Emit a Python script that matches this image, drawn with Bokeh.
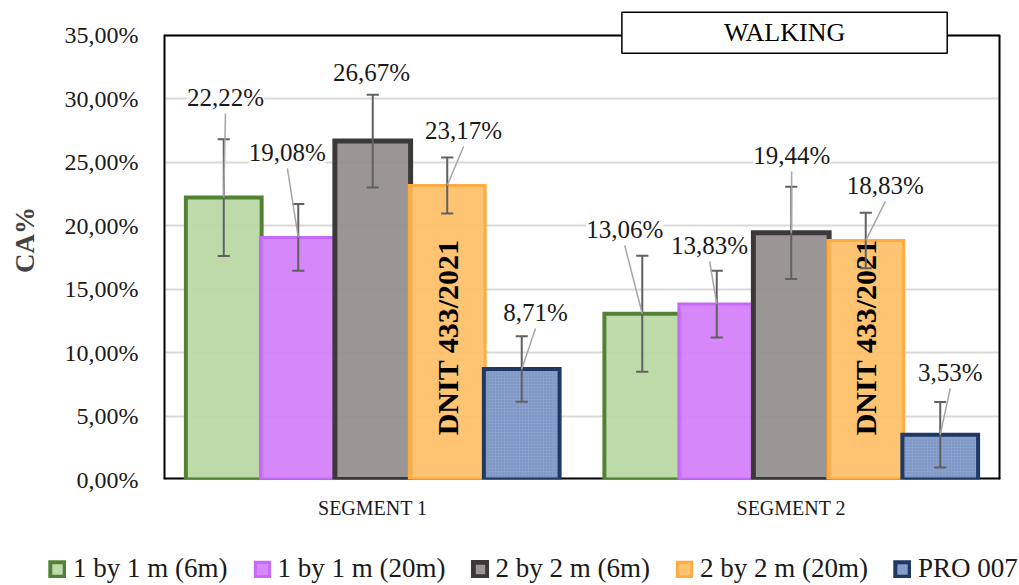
import math
from bokeh.plotting import figure
from bokeh.layouts import column
from bokeh.models import (FactorRange, ColumnDataSource, LabelSet, Label, Legend, LegendItem,
                          CustomJSTickFormatter, FixedTicker)
from bokeh.embed import file_html
from bokeh.resources import INLINE

# ---------------- data ----------------
segments = ["SEGMENT 1", "SEGMENT 2"]
series = ["1 by 1 m (6m)", "1 by 1 m (20m)", "2 by 2 m (6m)", "2 by 2 m (20m)", "PRO 007"]
values_seg1 = [22.22, 19.08, 26.67, 23.17, 8.71]
values_seg2 = [13.06, 13.83, 19.44, 18.83, 3.53]
err_seg1 = [4.60, 2.63, 3.65, 2.20, 2.58]
err_seg2 = [4.57, 2.63, 3.64, 2.19, 2.58]
y_ticks = [0, 5, 10, 15, 20, 25, 30, 35]
bar_note = "DNIT 433/2021"
title_text = "WALKING"

# ---------------- style ----------------
fills = ["#b7d8a2", "#d27dfa", "#918d8d", "#ffbf66", "#8099c9"]
borders = ["#548235", "#c46af6", "#3b3838", "#ffab40", "#1f3864"]
border_w = [4, 3, 5, 3, 4]
FONT = "Liberation Serif"
STEP = 0.178
WIDTH = 0.181
Y_MAX = 35
Y_TOP = 37.75   # extra room above the plot box for the title box
# label offsets (layout): x shift in category units, y shift in value units
label_dx = [[0.004, -0.026, -0.003, 0.039, 0.033], [-0.042, -0.017, 0.001, 0.047, 0.024]]
label_dy = [[7.88, 6.69, 5.40, 4.33, 4.45], [6.64, 4.61, 6.09, 4.34, 4.90]]
show_leader = [[True, True, False, True, True], [True, True, True, True, True]]

p = figure(x_range=FactorRange(factors=segments, range_padding=0), y_range=(0, Y_TOP),
           width=1019, height=540, output_backend="svg", toolbar_location=None,
           min_border_left=163, min_border_right=19, min_border_top=0, min_border_bottom=61)
p.title = None
p.frame_align = False

p.outline_line_color = None
p.background_fill_color = "white"
p.border_fill_color = "white"

p.xgrid.visible = False
p.ygrid.grid_line_color = "#d9d9d9"
p.ygrid.grid_line_width = 2
p.yaxis.ticker = FixedTicker(ticks=y_ticks)
p.yaxis.formatter = CustomJSTickFormatter(code="return tick.toFixed(2).replace('.', ',') + '%';")
p.yaxis.axis_line_color = None
p.yaxis.major_tick_line_color = None
p.yaxis.minor_tick_line_color = None
p.yaxis.major_label_standoff = 19
p.yaxis.major_label_text_font = FONT
p.yaxis.major_label_text_font_size = "24px"
p.yaxis.major_label_text_color = "#1a1a1a"
p.yaxis.axis_label = "CA%"
p.yaxis.axis_label_text_font = FONT
p.yaxis.axis_label_text_font_style = "bold"
p.yaxis.axis_label_text_font_size = "27px"
p.yaxis.axis_label_standoff = 22

p.xaxis.axis_line_color = None
p.xaxis.major_tick_line_color = None
p.xaxis.minor_tick_line_color = None
p.xaxis.major_label_standoff = 11
p.xaxis.major_label_text_font = FONT
p.xaxis.major_label_text_font_size = "20px"
p.xaxis.major_label_text_color = "#1a1a1a"

# plot box (frame) drawn as lines from 0..Y_MAX
n = len(segments)
p.segment(x0=[0, 0, n], y0=[0, 0, 0], x1=[n, 0, n], y1=[0, Y_MAX, Y_MAX], line_color="black", line_width=4)
p.segment(x0=[0], y0=[Y_MAX], x1=[n], y1=[Y_MAX], line_color="black", line_width=2)

values = [values_seg1, values_seg2]
errs = [err_seg1, err_seg2]

def bar_style(i):
    kw = dict(fill_color=fills[i], fill_alpha=0.92, line_color=borders[i], line_width=border_w[i],
              line_join="miter")
    if i == 4:
        kw.update(hatch_pattern=".", hatch_color="#5c76aa", hatch_scale=3, hatch_weight=0.4, hatch_alpha=0.6)
    return kw

for i, name in enumerate(series):
    xs = [g + 0.5 + (i - 2) * STEP for g in range(n)]
    tops = [values[g][i] for g in range(n)]
    p.vbar(x=xs, top=tops, bottom=0, width=WIDTH, **bar_style(i))

# DNIT notes on orange bars
for g in range(n):
    x = g + 0.5 + (3 - 2) * STEP
    p.text(x=[x], y=[11.2], text=[bar_note], angle=math.pi / 2, text_align="center",
           text_baseline="middle", text_font_size="30px", text_font_style="bold",
           text_color="black", text_font={"value": FONT})

# error bars
ex, elo, ehi = [], [], []
for g in range(n):
    for i in range(len(series)):
        ex.append(g + 0.5 + (i - 2) * STEP)
        elo.append(values[g][i] - errs[g][i])
        ehi.append(values[g][i] + errs[g][i])
cap = 0.0145
p.segment(x0=ex, y0=elo, x1=ex, y1=ehi, line_color="#606060", line_width=2)
p.segment(x0=[x - cap for x in ex], y0=elo, x1=[x + cap for x in ex], y1=elo, line_color="#606060", line_width=2)
p.segment(x0=[x - cap for x in ex], y0=ehi, x1=[x + cap for x in ex], y1=ehi, line_color="#606060", line_width=2)

# leader lines + labels
lx, ly, lt = [], [], []
l0x, l0y, l1x, l1y = [], [], [], []
for g in range(n):
    for i in range(len(series)):
        bx = g + 0.5 + (i - 2) * STEP
        v = values[g][i]
        x = bx + label_dx[g][i]
        y = v + label_dy[g][i]
        lx.append(x)
        ly.append(y)
        lt.append(f"{v:.2f}".replace(".", ",") + "%")
        if show_leader[g][i]:
            l0x.append(x)
            l0y.append(y - 1.25)
            l1x.append(bx)
            l1y.append(v)
p.segment(x0=l0x, y0=l0y, x1=l1x, y1=l1y, line_color="#a6a6a6", line_width=1.5)

src = ColumnDataSource(dict(x=lx, y=ly, t=lt))
labels = LabelSet(x="x", y="y", text="t", source=src, text_align="center", text_baseline="middle",
                  text_font=FONT, text_font_size="25px", text_color="#1a1a1a",
                  background_fill_color="white", background_fill_alpha=1.0)
p.add_layout(labels)

# title box
title = Label(x=1.484, y=35.2, text=title_text, text_align="center", text_baseline="middle",
              text_font=FONT, text_font_size="26px", text_color="black",
              background_fill_color="white", border_line_color="black", border_line_width=1.5,
              padding=dict(left=102, right=102, top=6, bottom=6))
p.add_layout(title)

# ---------------- legend strip ----------------
lg = figure(width=1019, height=45, output_backend="svg", toolbar_location=None,
            x_range=(0, 1), y_range=(0, 1), min_border=0,
            min_border_left=0, min_border_right=0, min_border_top=0, min_border_bottom=0)
lg.title = None
lg.frame_align = False
lg.axis.visible = False
lg.grid.visible = False
lg.outline_line_color = None
lg.background_fill_color = "white"
lg.border_fill_color = "white"
items = []
nan = float("nan")
for i, name in enumerate(series):
    # legend swatches only: the renderer has no drawable coordinates
    r = lg.vbar(x=[nan], top=[nan], bottom=[nan], width=0.1, **bar_style(i))
    items.append(LegendItem(label=name, renderers=[r]))
legend = Legend(items=items, orientation="horizontal", location=(48, 1),
                label_text_font=FONT, label_text_font_size="27px", label_text_color="#1a1a1a",
                glyph_width=18, glyph_height=18, label_standoff=7, spacing=25,
                padding=0, margin=0, border_line_color=None, background_fill_alpha=0)
lg.add_layout(legend, "center")

layout = column(p, lg, spacing=0)
open("out.html", "w").write(file_html(layout, INLINE))
